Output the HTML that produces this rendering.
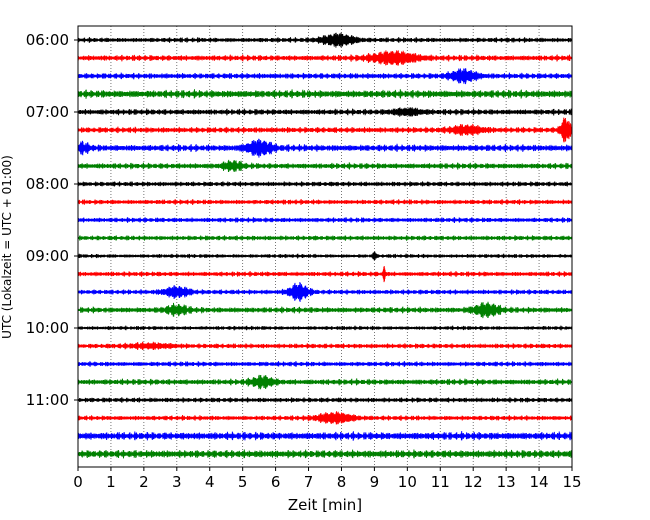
<!DOCTYPE html>
<html><head><meta charset="utf-8"><style>
body{margin:0;background:#fff;}
svg{display:block;font-family:"DejaVu Sans","Liberation Sans",sans-serif;}
</style></head><body>
<svg id="chart" width="650" height="520">
<g id="grid"></g>
<g id="traces"></g>
<rect x="78" y="26" width="494" height="441" fill="none" stroke="#000" stroke-width="1"/>
<g id="xticks"></g>
<g id="yticks"></g>
<text x="325" y="510" font-size="15" text-anchor="middle">Zeit  [min]</text>
<text x="11" y="247" font-size="12" text-anchor="middle" transform="rotate(-90 11 247)">UTC (Lokalzeit = UTC + 01:00)</text>
</svg>
<script>
const xTicks=[0,1,2,3,4,5,6,7,8,9,10,11,12,13,14,15];
const yTickLabels=["06:00","07:00","08:00","09:00","10:00","11:00"];
const rowColors=["#000000","#ff0000","#0000ff","#008000"];
const baseAmp=[2.5,3,3,4,3,3,3.5,3,2.5,2.5,2.5,2.5,2,2.5,2.5,3,2,2.5,2.5,3,2.5,2.5,4,4];
const eventRows=[0,1,2,4,5,5,6,6,7,12,13,14,14,15,15,17,19,21];
const eventTimes=[7.9,9.6,11.7,10.0,11.8,14.8,5.5,0.1,4.7,9.0,9.3,3.0,6.7,3.0,12.4,2.2,5.6,7.8];
const eventAmps=[6,6,6,3,4,12,7,4,4,7,12,5,8,4,6,2,5,5];
const eventWidths=[0.5,0.7,0.4,0.45,0.5,0.15,0.4,0.25,0.3,0.04,0.03,0.4,0.3,0.35,0.4,0.7,0.35,0.55];

const X0=78,X1=572,Y0=26,Y1=467,ROW0=40,DY=18;
const xs=t=>X0+(t-0)/(15-0)*(X1-X0);
const ys=r=>ROW0+r*DY;
const NS="http://www.w3.org/2000/svg";
const grid=document.getElementById('grid');
xTicks.forEach(t=>{
  const x=xs(t);
  if(t>0&&t<15){const l=document.createElementNS(NS,'line');
    l.setAttribute('x1',x);l.setAttribute('x2',x);l.setAttribute('y1',Y0);l.setAttribute('y2',Y1);
    l.setAttribute('stroke','#555');l.setAttribute('stroke-width','0.8');l.setAttribute('stroke-dasharray','1,2');
    
    
    grid.appendChild(l);}
  const tk=document.createElementNS(NS,'line');
  tk.setAttribute('x1',x);tk.setAttribute('x2',x);tk.setAttribute('y1',Y1);tk.setAttribute('y2',Y1+4);tk.setAttribute('stroke','#000');
  
  
  document.getElementById('xticks').appendChild(tk);
  const tx=document.createElementNS(NS,'text');
  tx.setAttribute('x',x);tx.setAttribute('y',Y1+20);tx.setAttribute('font-size','15');tx.setAttribute('text-anchor','middle');
  tx.textContent=t;
  
  
  document.getElementById('xticks').appendChild(tx);
});
yTickLabels.forEach((lab,i)=>{
  const y=ys(i*4);
  const tk=document.createElementNS(NS,'line');
  tk.setAttribute('x1',X0-4);tk.setAttribute('x2',X0);tk.setAttribute('y1',y);tk.setAttribute('y2',y);tk.setAttribute('stroke','#000');
  
  
  document.getElementById('yticks').appendChild(tk);
  const tx=document.createElementNS(NS,'text');
  tx.setAttribute('x',X0-9);tx.setAttribute('y',y+5);tx.setAttribute('font-size','15');tx.setAttribute('text-anchor','end');
  tx.textContent=lab;
  
  
  document.getElementById('yticks').appendChild(tx);
});
const traces=document.getElementById('traces');
const N=2400;
for(let r=0;r<baseAmp.length;r++){
  let pts=[];
  for(let i=0;i<=N;i++){
    const t=15*i/N;
    let env=baseAmp[r]*(0.7+0.3*Math.sin(t*23.1+r*1.7)*Math.sin(t*57.3+r)+0.25*Math.sin(t*131.7+r*2.3));
    for(let e=0;e<eventRows.length;e++){
      if(eventRows[e]!==r)continue;
      const d=(t-eventTimes[e])/eventWidths[e];
      env+=eventAmps[e]*Math.exp(-d*d);
    }
    const c=(i%2?1:-1)*(0.45+0.55*Math.abs(Math.sin(i*0.37+r)*Math.cos(i*0.113+r*0.7)));
    pts.push(xs(t).toFixed(2)+','+(ys(r)+env*c).toFixed(2));
  }
  const p=document.createElementNS(NS,'polyline');
  p.setAttribute('points',pts.join(' '));
  p.setAttribute('fill','none');
  p.setAttribute('stroke',rowColors[r%4]);
  p.setAttribute('stroke-width','1');
  
  
  traces.appendChild(p);
}
</script>
</body></html>
